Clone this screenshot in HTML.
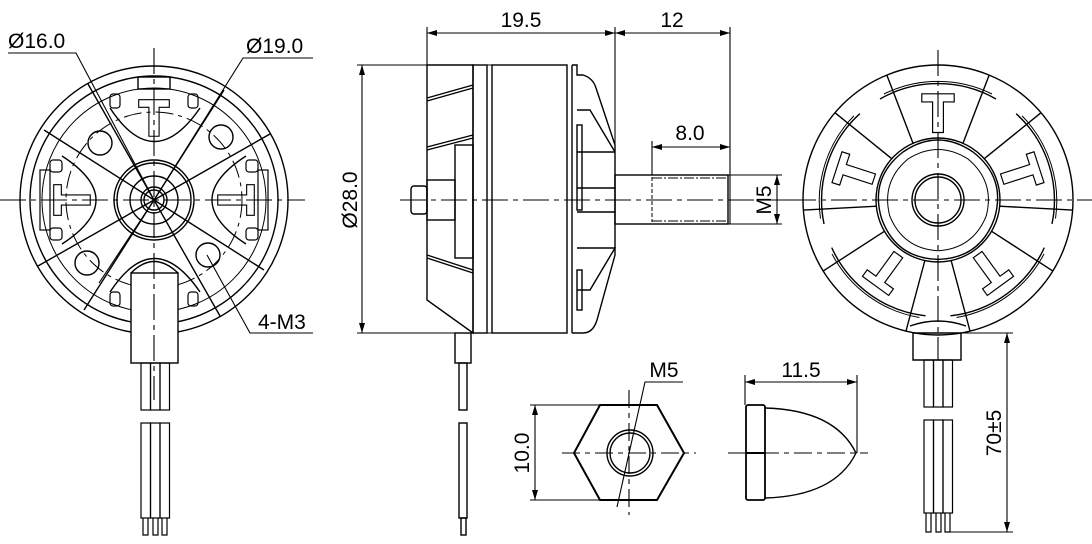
<!DOCTYPE html>
<html><head><meta charset="utf-8"><style>
html,body{margin:0;padding:0;background:#fff}
svg{display:block}
text{font-family:"Liberation Sans",sans-serif;font-size:21px;fill:#000}
</style></head><body>
<svg width="1092" height="544" viewBox="0 0 1092 544" xmlns="http://www.w3.org/2000/svg">
<defs>
<marker id="a" viewBox="0 0 10 6" refX="10" refY="3" markerWidth="10" markerHeight="6" orient="auto-start-reverse" markerUnits="userSpaceOnUse"><path d="M0,0L10,3L0,6z" fill="#000"/></marker>
<g id="T"><path d="M-18,-118 h36 v9 h-12 v34 h-12 v-34 h-12z" fill="none" stroke="#000" stroke-width="1.3"/></g>
<g id="rs" fill="none" stroke="#000" stroke-width="1.4"><path d="M998,187 L1069,168 M998,213 L1069,232"/></g>
<g id="win" fill="none" stroke="#000" stroke-width="1.4">
<path d="M880,99 A117,117 0 0 1 996,99"/>
<path d="M884,94 A122,122 0 0 1 992,94" stroke-width="1"/>
<use href="#T" transform="translate(938 200) scale(0.9)"/>
<path d="M903,152 Q938,128 973,152"/>
<path d="M908,159 Q938,140 968,159" stroke-width="1"/>
</g>
</defs>
<g fill="none" stroke="#000" stroke-width="1.4">

<!-- ===== LEFT VIEW ===== -->
<circle cx="154" cy="200" r="134"/>
<circle cx="154" cy="200" r="124"/>
<circle cx="154" cy="200" r="112" stroke-width="1"/>
<circle cx="154" cy="200" r="88" stroke-dasharray="18 5 4 5" stroke-width="1"/>
<g id="lsp">
<line x1="154" y1="200" x2="88" y2="84"/>
<line x1="154" y1="200" x2="44" y2="130"/>
</g>
<use href="#lsp" transform="rotate(90 154 200)"/>
<use href="#lsp" transform="rotate(180 154 200)"/>
<use href="#lsp" transform="rotate(270 154 200)"/>
<path d="M110,108 Q154,175 200,108"/>
<path d="M110,292 Q154,225 200,292"/>
<path d="M62,156 Q130,200 62,244"/>
<path d="M246,156 Q178,200 246,244"/>
<use href="#T" transform="translate(154 200) scale(0.85)"/>
<use href="#T" transform="translate(154 200) rotate(90) scale(0.85)"/>
<use href="#T" transform="translate(154 200) rotate(-90) scale(0.85)"/>
<rect x="138" y="77" width="32" height="12"/>
<g stroke-width="1.2">
<rect x="110" y="94" width="10" height="14" rx="3"/><rect x="188" y="94" width="10" height="14" rx="3"/>
<rect x="50" y="160" width="12" height="12" rx="3"/><rect x="50" y="228" width="12" height="12" rx="3"/>
<rect x="246" y="160" width="12" height="12" rx="3"/><rect x="246" y="228" width="12" height="12" rx="3"/>
<rect x="40" y="170" width="10" height="60"/><rect x="258" y="170" width="10" height="60"/>
<rect x="110" y="292" width="10" height="14" rx="3"/><rect x="188" y="292" width="10" height="14" rx="3"/>
</g>
<circle cx="154" cy="200" r="40"/><circle cx="154" cy="200" r="37"/>
<circle cx="154" cy="200" r="24"/><circle cx="154" cy="200" r="13"/><circle cx="154" cy="200" r="10"/>
<circle cx="100" cy="143" r="12"/><circle cx="221" cy="137" r="12"/>
<circle cx="87" cy="263" r="12"/><circle cx="208" cy="255" r="12"/>
<rect x="131" y="273" width="47" height="90" fill="#fff"/>
<path d="M131,273 Q154,250 178,273"/>
<path d="M8,53 H76 L154,200" stroke-width="1.1"/>
<path d="M313,58 H243 L154,200" stroke-width="1.1"/>
<path d="M313,333 H250 L207,255" stroke-width="1.1"/>
<line x1="154" y1="200" x2="99" y2="283" stroke-width="1.1"/>
<g stroke-width="1.2">
<rect x="141" y="363" width="9.5" height="47"/><rect x="150.5" y="363" width="9.5" height="47"/><rect x="160" y="363" width="9.5" height="47"/>
<rect x="141" y="423" width="9.5" height="95"/><rect x="150.5" y="423" width="9.5" height="95"/><rect x="160" y="423" width="9.5" height="95"/>
<path d="M143,518v17h5v-17M153,518v17h5v-17M162,518v17h5v-17"/>
</g>
<g stroke-width="1.1" stroke-dasharray="26 5 5 5">
<line x1="0" y1="200" x2="305" y2="200"/>
<line x1="154" y1="48" x2="154" y2="400"/>
</g>

<!-- ===== SIDE VIEW ===== -->
<path d="M427,65 H473 V333 L427,300 Z"/>
<rect x="473" y="65" width="14" height="268"/>
<path d="M427,98 L473,85 M427,101 L473,88 M427,147 L473,135 M427,150 L473,138 M427,255 L473,270 M427,258 L473,273"/>
<rect x="455" y="145" width="18" height="113"/>
<rect x="427" y="180" width="28" height="40"/>
<rect x="411" y="186" width="16" height="28" rx="3"/>
<rect x="492" y="65" width="75" height="268"/>
<line x1="572" y1="65" x2="572" y2="333"/>
<path d="M572,65 H577 V75 H583 Q593,78 596,88 L615,145 V255 L597,320 Q593,333 583,333 H572"/>
<path d="M577,110 H590 L615,152 M577,152 H615 M577,188 H615 M577,212 H615 M577,248 H615 L590,290 H577"/>
<rect x="577" y="125" width="5" height="85"/>
<rect x="577" y="270" width="5" height="40"/>
<rect x="615" y="175" width="113" height="49"/>
<line x1="652" y1="177" x2="652" y2="222" stroke-dasharray="4 2" stroke-width="1"/>
<line x1="652" y1="178" x2="726" y2="178" stroke-dasharray="10 2 2 2" stroke-width="1"/>
<line x1="652" y1="221" x2="726" y2="221" stroke-dasharray="10 2 2 2" stroke-width="1"/>
<rect x="455" y="333" width="16" height="30"/>
<rect x="459" y="363" width="8" height="47"/>
<rect x="459" y="423" width="8" height="95"/>
<rect x="461" y="518" width="5" height="17"/>
<g stroke-width="1.1">
<line x1="427" y1="65" x2="427" y2="27"/><line x1="615" y1="145" x2="615" y2="27"/><line x1="730" y1="224" x2="730" y2="27"/>
<line x1="427" y1="33" x2="615" y2="33" marker-start="url(#a)" marker-end="url(#a)"/>
<line x1="615" y1="33" x2="730" y2="33" marker-start="url(#a)" marker-end="url(#a)"/>
<line x1="652" y1="175" x2="652" y2="141"/>
<line x1="652" y1="147" x2="730" y2="147" marker-start="url(#a)" marker-end="url(#a)"/>
<line x1="357" y1="65" x2="492" y2="65"/><line x1="357" y1="333" x2="492" y2="333"/>
<line x1="362" y1="65" x2="362" y2="333" marker-start="url(#a)" marker-end="url(#a)"/>
<line x1="728" y1="175" x2="782" y2="175"/><line x1="728" y1="224" x2="782" y2="224"/>
<line x1="777" y1="175" x2="777" y2="224" marker-start="url(#a)" marker-end="url(#a)"/>
</g>
<line x1="400" y1="200" x2="790" y2="200" stroke-width="1.1" stroke-dasharray="26 5 5 5"/>

<!-- ===== NUT ===== -->
<path d="M600,405 H657 L684,453 L657,500 H600 L574,453 Z" stroke-width="2"/>
<circle cx="630" cy="453" r="23"/><circle cx="630" cy="453" r="20"/>
<g stroke-width="1.1">
<line x1="530" y1="405" x2="600" y2="405"/><line x1="530" y1="500" x2="600" y2="500"/>
<line x1="535" y1="405" x2="535" y2="500" marker-start="url(#a)" marker-end="url(#a)"/>
<path d="M683,382 H645 L617,507"/>
<line x1="562" y1="453" x2="696" y2="453" stroke-dasharray="18 5 5 5"/>
<line x1="629" y1="390" x2="629" y2="515" stroke-dasharray="18 5 5 5"/>
</g>

<!-- ===== BULLET ===== -->
<rect x="746" y="405" width="19" height="95" rx="2" stroke-width="1.8"/>
<line x1="746" y1="453" x2="765" y2="453" stroke-width="2"/>
<path d="M765,408 Q835,410 856,453 Q835,496 765,498"/>
<g stroke-width="1.1">
<line x1="745" y1="405" x2="745" y2="375"/><line x1="857" y1="453" x2="857" y2="375"/>
<line x1="745" y1="382" x2="857" y2="382" marker-start="url(#a)" marker-end="url(#a)"/>
<line x1="728" y1="453" x2="868" y2="453" stroke-dasharray="18 5 5 5"/>
</g>

<!-- ===== RIGHT VIEW ===== -->
<circle cx="938" cy="200" r="135"/>
<circle cx="938" cy="200" r="62"/>
<use href="#win"/>
<use href="#win" transform="rotate(72 938 200)"/>
<use href="#win" transform="rotate(144 938 200)"/>
<use href="#win" transform="rotate(216 938 200)"/>
<use href="#win" transform="rotate(288 938 200)"/>
<use href="#rs" transform="rotate(-54 938 200)"/>
<use href="#rs" transform="rotate(18 938 200)"/>
<use href="#rs" transform="rotate(90 938 200)"/>
<use href="#rs" transform="rotate(162 938 200)"/>
<use href="#rs" transform="rotate(234 938 200)"/>
<circle cx="938" cy="200" r="26"/><circle cx="938" cy="200" r="23"/>
<path d="M913,333 H961 V360 H913 Z"/>
<path d="M910,326 Q938,316 966,326"/>
<g stroke-width="1.2">
<rect x="924" y="360" width="9.5" height="47"/><rect x="933.5" y="360" width="9.5" height="47"/><rect x="943" y="360" width="9.5" height="47"/>
<rect x="924" y="420" width="9.5" height="93"/><rect x="933.5" y="420" width="9.5" height="93"/><rect x="943" y="420" width="9.5" height="93"/>
<path d="M926,513v19h5v-19M936,513v19h5v-19M945,513v19h5v-19"/>
</g>
<g stroke-width="1.1">
<line x1="961" y1="333" x2="1013" y2="333"/><line x1="950" y1="532" x2="1013" y2="532"/>
<line x1="1007" y1="333" x2="1007" y2="532" marker-start="url(#a)" marker-end="url(#a)"/>
</g>
<g stroke-width="1.1" stroke-dasharray="26 5 5 5">
<line x1="790" y1="200" x2="1092" y2="200"/>
<line x1="938" y1="50" x2="938" y2="360"/>
</g>
</g>

<text x="8" y="48">Ø16.0</text>
<text x="246" y="53">Ø19.0</text>
<text x="258" y="329">4-M3</text>
<text x="521" y="27" text-anchor="middle">19.5</text>
<text x="672" y="27" text-anchor="middle">12</text>
<text x="690" y="140" text-anchor="middle">8.0</text>
<text transform="translate(357 200) rotate(-90)" text-anchor="middle">Ø28.0</text>
<text transform="translate(771 200) rotate(-90)" text-anchor="middle">M5</text>
<text transform="translate(529 453) rotate(-90)" text-anchor="middle">10.0</text>
<text x="664" y="377" text-anchor="middle">M5</text>
<text x="801" y="377" text-anchor="middle">11.5</text>
<text transform="translate(1001 433) rotate(-90)" text-anchor="middle">70±5</text>
</svg>
</body></html>
